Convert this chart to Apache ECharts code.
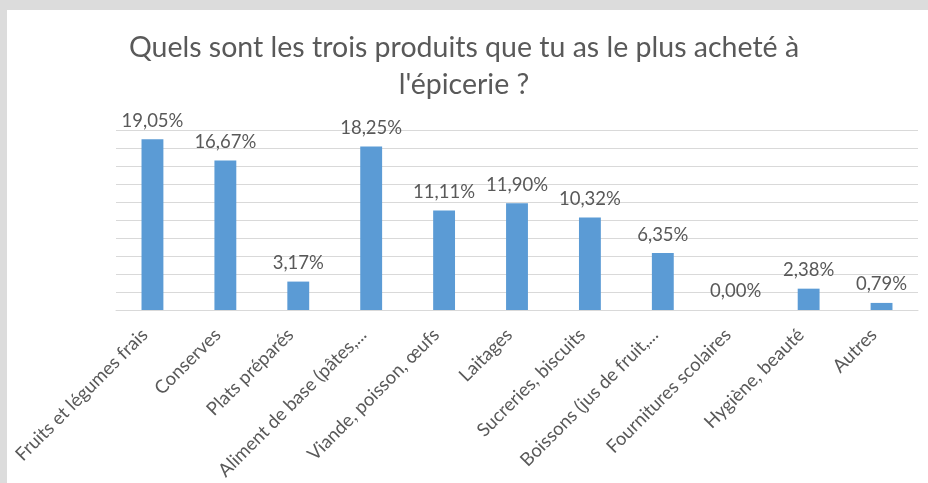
<!DOCTYPE html>
<html><head><meta charset="utf-8">
<script src="https://cdn.jsdelivr.net/npm/echarts@6/dist/echarts.min.js"></script>
<style>html,body{margin:0;padding:0;background:#dcdcdc}#c{width:928px;height:483px}</style>
</head><body><div id="c"></div>
<script>
const categories = ["Fruits et légumes frais","Conserves","Plats préparés","Aliment de base (pâtes,...","Viande, poisson, œufs","Laitages","Sucreries, biscuits","Boissons (jus de fruit,...","Fournitures scolaires","Hygiène, beauté","Autres"];
const values = [19.05,16.67,3.17,18.25,11.11,11.90,10.32,6.35,0.00,2.38,0.79];
const titleText = "Quels sont les trois produits que tu as le plus acheté à\nl'épicerie ?";
const FONT = "Lato";
const chart = echarts.init(document.getElementById('c'));
chart.setOption({
  backgroundColor: '#dcdcdc',
  animation: false,
  graphic: [{type:'rect', z:-10, shape:{x:7,y:10,width:921,height:473}, style:{fill:'#ffffff'}}],
  title: {text:titleText, left:'center', top:29, padding:[0,0,0,16], textStyle:{fontFamily:FONT, fontSize:28.5, fontWeight:'normal', color:'#595959', lineHeight:37}},
  grid: {left:116, right:10, top:130.7, bottom:173},
  xAxis: {type:'category', data:categories,
    axisLine:{lineStyle:{color:'#d9d9d9'}}, axisTick:{show:false},
    axisLabel:{rotate:45, interval:0, margin:14, padding:[0,11,0,0], fontFamily:FONT, fontSize:18.5, color:'#595959'}},
  yAxis: {type:'value', min:0, max:20, interval:2, axisLabel:{show:false}, axisLine:{show:false}, axisTick:{show:false},
    splitLine:{lineStyle:{color:'#d9d9d9'}}},
  series: [{type:'bar', data:values, barWidth:'30%', itemStyle:{color:'#5b9bd5'},
    label:{show:true, position:'top', distance:9, fontFamily:FONT, fontSize:18.5, color:'#595959',
      formatter: p => p.value.toFixed(2).replace('.', ',') + '%'}}]
});
</script></body></html>
